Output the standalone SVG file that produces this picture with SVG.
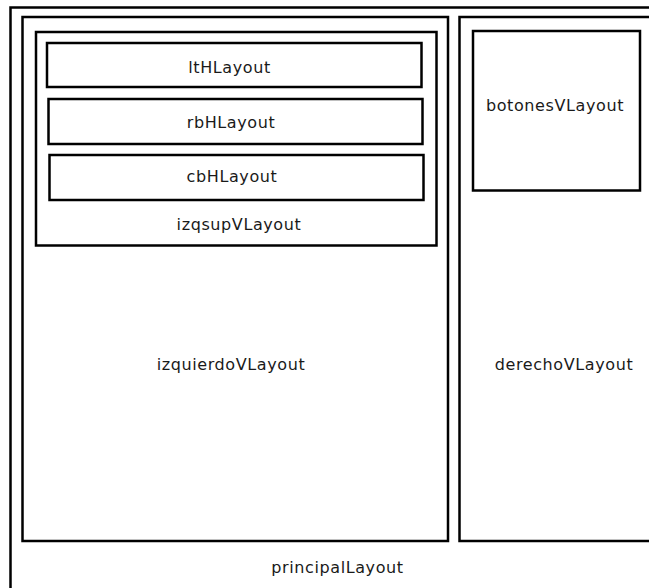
<svg xmlns="http://www.w3.org/2000/svg" width="649" height="588" viewBox="0 0 649 588">
<style>
.box{fill:none;stroke:#000;stroke-width:2.5}
.lbl{font-family:"DejaVu Sans",sans-serif;font-size:16px;letter-spacing:0.6px;fill:#1a1a1a;text-anchor:middle}
</style>
<rect width="649" height="588" fill="#fff"/>
<g id="principalLayout"><rect class="box" x="10.5" y="7.5" width="660" height="600"/><text class="lbl" x="337.5" y="573">principalLayout</text></g>
<g id="izquierdoVLayout"><rect class="box" x="22.5" y="17" width="425.5" height="524"/><text class="lbl" x="231" y="370">izquierdoVLayout</text></g>
<g id="izqsupVLayout"><rect class="box" x="36" y="32" width="400.5" height="213.5"/><text class="lbl" x="239" y="230">izqsupVLayout</text></g>
<g id="ltHLayout"><rect class="box" x="47" y="43" width="374.5" height="44"/><text class="lbl" x="229.5" y="73">ltHLayout</text></g>
<g id="rbHLayout"><rect class="box" x="48.5" y="99" width="374" height="45"/><text class="lbl" x="231" y="128">rbHLayout</text></g>
<g id="cbHLayout"><rect class="box" x="49.5" y="155" width="374" height="45"/><text class="lbl" x="232" y="182">cbHLayout</text></g>
<g id="derechoVLayout"><rect class="box" x="459.5" y="17" width="220" height="524"/><text class="lbl" x="564" y="370">derechoVLayout</text></g>
<g id="botonesVLayout"><rect class="box" x="473" y="31" width="167" height="159.5"/><text class="lbl" x="555" y="110.5">botonesVLayout</text></g>
<g id="connectors"/>
</svg>
